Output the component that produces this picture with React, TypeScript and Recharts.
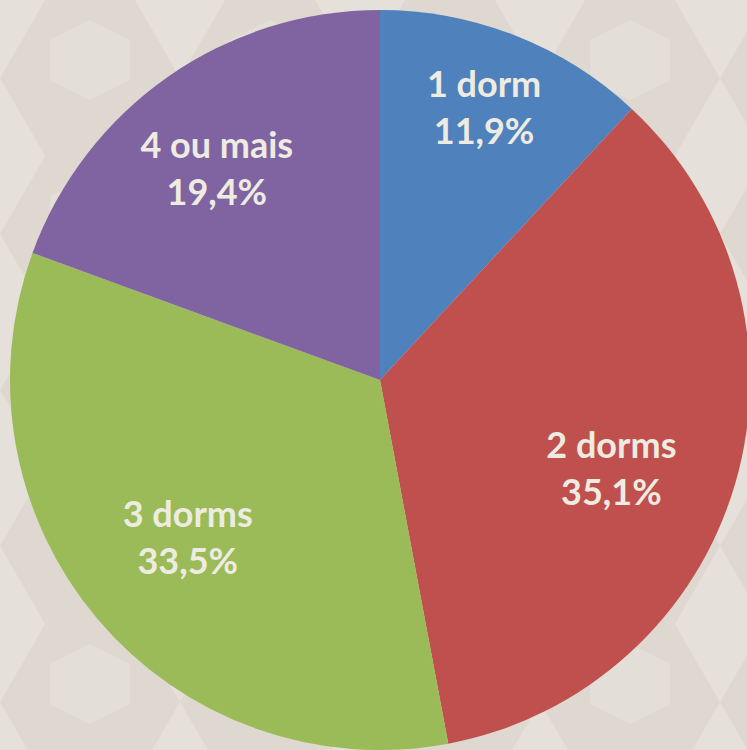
import { PieChart, Pie, Cell } from "recharts";

const categories = ["1 dorm", "2 dorms", "3 dorms", "4 ou mais"];
const shares = [11.9, 35.1, 33.5, 19.4];
const sliceColors = ["#4F81BD", "#C0504D", "#9BBB59", "#8064A2"];
// label placement like Excel's "best fit": distance as share of radius, and a small clockwise nudge in degrees
const labelRadius = [0.787, 0.67, 0.672, 0.722];
const labelNudge = [-0.5, 4.9, 0.9, -2.7];

const data = categories.map((name, i) => ({ name, value: shares[i] }));

const RADIAN = Math.PI / 180;

const hexTile = encodeURIComponent(
  `<svg xmlns='http://www.w3.org/2000/svg' width='180' height='156'>
    <polygon points='45,0 135,0 180,78 135,156 45,156 0,78' fill='#D8CEC5' opacity='0.45'/>
    <polygon points='90,20 130,40 130,80 90,100 50,80 50,40' fill='#EAE6E2' opacity='0.35'/>
  </svg>`
);

function renderLabel(props: any) {
  const { cx, cy, midAngle, outerRadius, index, name, value } = props;
  const r = outerRadius * labelRadius[index];
  const a = (midAngle - labelNudge[index]) * RADIAN;
  const x = cx + r * Math.cos(-a);
  const y = cy + r * Math.sin(-a);
  return (
    <text
      x={x}
      y={y}
      fill="#EEECE1"
      textAnchor="middle"
      fontFamily="Lato, 'Open Sans', sans-serif"
      fontWeight={700}
      fontSize={36}
    >
      <tspan x={x} dy={-11}>{name}</tspan>
      <tspan x={x} dy={47}>{value.toFixed(1).replace(".", ",")}%</tspan>
    </text>
  );
}

export default function App() {
  return (
    <div
      style={{
        position: "absolute",
        top: 0,
        left: 0,
        width: 747,
        height: 750,
        overflow: "hidden",
        backgroundColor: "#E6E0DA",
        backgroundImage: `url("data:image/svg+xml,${hexTile}")`,
      }}
    >
      <PieChart width={747} height={750} margin={{ top: 0, right: 0, bottom: 0, left: 0 }}>
        <Pie
          data={data}
          dataKey="value"
          nameKey="name"
          cx={380}
          cy={380}
          outerRadius={370}
          startAngle={90}
          endAngle={-270}
          stroke="none"
          label={renderLabel}
          labelLine={false}
          isAnimationActive={false}
        >
          {data.map((d, i) => (
            <Cell key={d.name} fill={sliceColors[i]} />
          ))}
        </Pie>
      </PieChart>
    </div>
  );
}
